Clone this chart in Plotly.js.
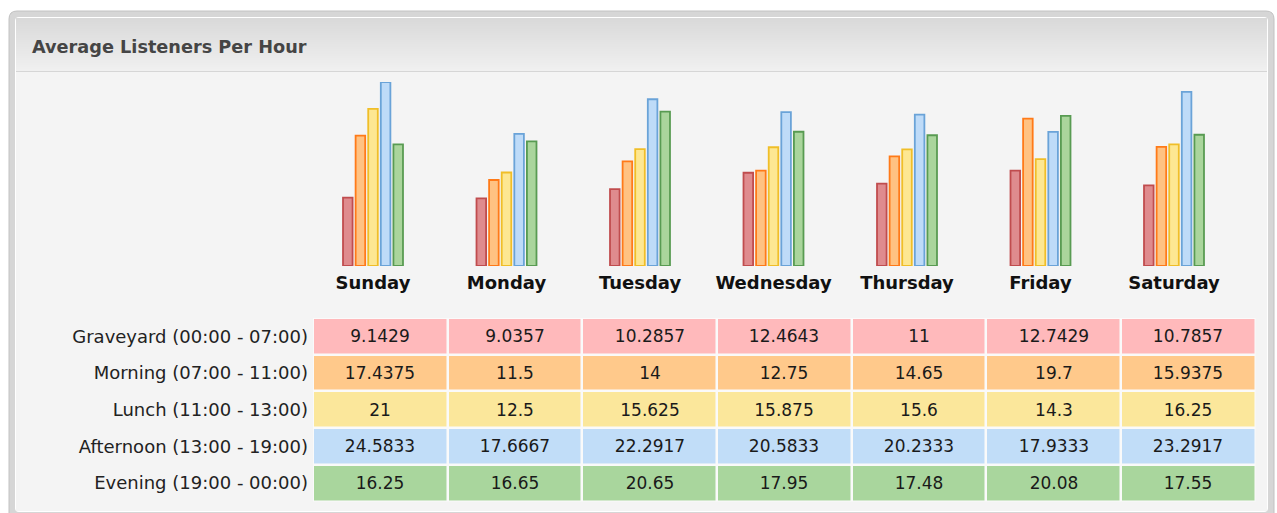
<!DOCTYPE html>
<html><head><meta charset="utf-8">
<script src="https://cdn.plot.ly/plotly-3.0.1.min.js"></script>
<style>html,body{margin:0;padding:0;background:#fff;}#chart{width:1277px;height:513px;}</style>
</head><body><div id="chart"></div>
<script>
const days = ['Sunday','Monday','Tuesday','Wednesday','Thursday','Friday','Saturday'];
const periods = ['Graveyard (00:00 - 07:00)','Morning (07:00 - 11:00)','Lunch (11:00 - 13:00)','Afternoon (13:00 - 19:00)','Evening (19:00 - 00:00)'];
const graveyard = [9.1429, 9.0357, 10.2857, 12.4643, 11, 12.7429, 10.7857];
const morning   = [17.4375, 11.5, 14, 12.75, 14.65, 19.7, 15.9375];
const lunch     = [21, 12.5, 15.625, 15.875, 15.6, 14.3, 16.25];
const afternoon = [24.5833, 17.6667, 22.2917, 20.5833, 20.2333, 17.9333, 23.2917];
const evening   = [16.25, 16.65, 20.65, 17.95, 17.48, 20.08, 17.55];
const series = [graveyard, morning, lunch, afternoon, evening];
const barFill  = ['#df8b8e','#ffc282','#fde792','#bedbf8','#aad59c'];
const barLine  = ['#c04c4e','#ff7a18','#f0be28','#6aa3d8','#589b52'];
const cellFill = ['#ffb9bb','#ffc98b','#fbe79b','#c1ddf8','#a9d69d'];

const W = 1277, H = 513;
const fx = p => p / W, fy = p => 1 - p / H;

const traces = series.map((s, i) => ({
  type: 'bar', x: days, y: s, name: periods[i], xaxis: 'x', yaxis: 'y',
  marker: {color: barFill[i], line: {color: barLine[i], width: 1.8}},
  hoverinfo: 'skip'
}));

const zIdx = series.map((s, i) => s.map(() => i));
const cs = [];
cellFill.forEach((c, i) => { cs.push([i / 5, c]); cs.push([(i + 1) / 5, c]); });
traces.push({
  type: 'heatmap', x: days, y: periods, z: zIdx, text: series.map(s => s.map(String)),
  texttemplate: '%{text}', textfont: {size: 17, color: '#1a1a1a', family: 'DejaVu Sans, Verdana, sans-serif'},
  colorscale: cs, zmin: -0.5, zmax: 4.5, showscale: false, xgap: 2.5, ygap: 2.5,
  xaxis: 'x2', yaxis: 'y2', hoverinfo: 'skip'
});

function rr(x0, y0, x1, y1, r) {
  const X = fx, Y = fy;
  return `M${X(x0+r)},${Y(y0)} L${X(x1-r)},${Y(y0)} Q${X(x1)},${Y(y0)} ${X(x1)},${Y(y0+r)} ` +
         `L${X(x1)},${Y(y1-r)} Q${X(x1)},${Y(y1)} ${X(x1-r)},${Y(y1)} L${X(x0+r)},${Y(y1)} ` +
         `Q${X(x0)},${Y(y1)} ${X(x0)},${Y(y1-r)} L${X(x0)},${Y(y0+r)} Q${X(x0)},${Y(y0)} ${X(x0+r)},${Y(y0)} Z`;
}
const shapes = [
  {type: 'path', xref: 'paper', yref: 'paper', path: rr(9, 11, 1274, 522, 8), fillcolor: '#d6d6d6', line: {color: '#c2c2c2', width: 1}, layer: 'below'},
  {type: 'path', xref: 'paper', yref: 'paper', path: rr(15, 17, 1268, 512, 4), fillcolor: '#ffffff', line: {width: 0}, layer: 'below'},
  {type: 'rect', xref: 'paper', yref: 'paper', x0: fx(16), x1: fx(1267), y0: fy(511), y1: fy(18), fillcolor: '#f4f4f4', line: {width: 0}, layer: 'below'}
];
// title bar gradient
const g0 = [0xd9, 0xd9, 0xd9], g1 = [0xf0, 0xf0, 0xf0];
for (let yy = 18; yy < 71; yy++) {
  const t = (yy - 18) / 52;
  const c = g0.map((v, k) => Math.round(v + (g1[k] - v) * t));
  shapes.push({type: 'rect', xref: 'paper', yref: 'paper', x0: fx(16), x1: fx(1267), y0: fy(yy + 1.05), y1: fy(yy),
    fillcolor: `rgb(${c[0]},${c[1]},${c[2]})`, line: {width: 0}, layer: 'below'});
}
shapes.push({type: 'rect', xref: 'paper', yref: 'paper', x0: fx(16), x1: fx(1267), y0: fy(72), y1: fy(71), fillcolor: '#d6d6d6', line: {width: 0}, layer: 'below'});
shapes.push({type: 'rect', xref: 'paper', yref: 'paper', x0: fx(313), x1: fx(1255.5), y0: fy(501.5), y1: fy(318), fillcolor: '#fafafa', line: {width: 0}, layer: 'below'});

const layout = {
  width: W, height: H, margin: {l: 0, r: 0, t: 0, b: 0},
  paper_bgcolor: '#ffffff', plot_bgcolor: 'rgba(0,0,0,0)', showlegend: false,
  barmode: 'group', bargap: 0.528, bargroupgap: 0.24,
  font: {family: 'DejaVu Sans, Verdana, sans-serif', color: '#222'},
  xaxis: {domain: [fx(306.25), fx(1240.75)], anchor: 'y', showgrid: false, zeroline: false, showline: false, ticks: '',
    tickfont: {size: 18, color: '#111', weight: 'bold'}, ticklabelstandoff: 4, fixedrange: true},
  yaxis: {domain: [fy(266), fy(82)], anchor: 'x', range: [0, 24.6], visible: false, fixedrange: true},
  xaxis2: {domain: [fx(313), fx(1255.5)], anchor: 'y2', visible: false, fixedrange: true},
  yaxis2: {domain: [fy(501.5), fy(318)], anchor: 'x2', autorange: 'reversed', showgrid: false, zeroline: false, showline: false,
    ticks: '', tickfont: {size: 18, color: '#222'}, ticklabelstandoff: 4, fixedrange: true},
  annotations: [{text: '<b>Average Listeners Per Hour</b>', xref: 'paper', yref: 'paper', x: fx(30), y: fy(47),
    xanchor: 'left', yanchor: 'middle', showarrow: false, font: {size: 17.7, color: '#454545'}}],
  shapes: shapes
};
Plotly.newPlot('chart', traces, layout, {displayModeBar: false, staticPlot: true});
</script></body></html>
